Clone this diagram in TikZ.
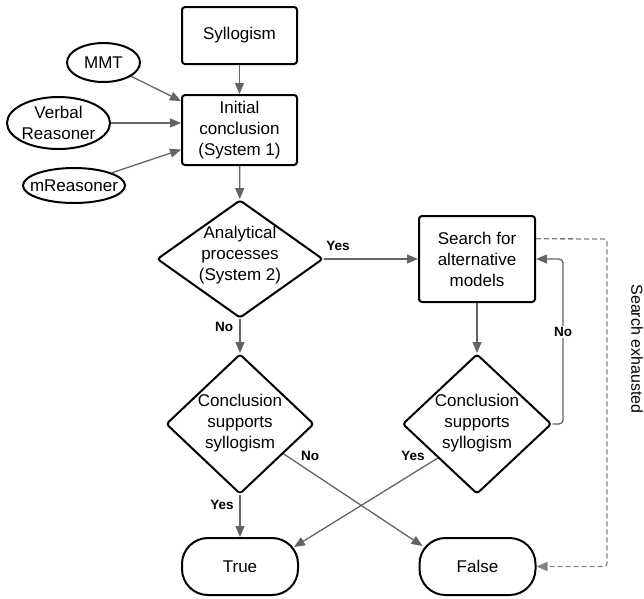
\documentclass[tikz,border=0pt]{standalone}
\usepackage{fontspec}
\setmainfont{Liberation Sans}
\usetikzlibrary{arrows.meta,shapes.geometric,calc}
\definecolor{cg}{RGB}{100,100,100}
\definecolor{dg}{RGB}{130,130,130}
\begin{document}
\begin{tikzpicture}[x=1pt,y=-1pt,
  every node/.style={font=\fontsize{17}{21}\selectfont},
  box/.style={draw, line width=2pt, rounded corners=3pt, minimum width=115pt, inner sep=0pt, align=center},
  ell/.style={draw, ellipse, line width=2pt, inner sep=0pt, align=center},
  dia/.style={draw, diamond, line width=2pt, rounded corners=3pt, inner sep=0pt},
  term/.style={draw, line width=2pt, rounded corners=26pt, minimum width=116pt, minimum height=57pt, inner sep=0pt},
  txt/.style={align=center, inner sep=0pt},
  conn/.style={draw=cg, line width=1.3pt, -{Triangle[length=11pt,width=9pt]}},
  dconn/.style={conn, draw=dg, dash pattern=on 5pt off 3pt},
  lbl/.style={font=\fontsize{13.5}{16}\selectfont\bfseries, inner sep=1pt},
]
\useasboundingbox (0,0) rectangle (644,598);

\node[box, minimum height=57pt] (syl) at (239.5,35.5) {Syllogism};
\node[box, minimum height=70pt] (ic) at (239.5,130) {Initial\\conclusion\\(System 1)};
\node[ell, minimum width=73pt, minimum height=39pt] (mmt) at (103.5,62.5) {MMT};
\node[ell, minimum width=103pt, minimum height=52pt, inner xsep=-1pt] (vr) at (58.5,123) {Verbal\\Reasoner};
\node[ell, minimum width=102pt, minimum height=35pt, inner xsep=-8pt] (mr) at (74,185.5) {mReasoner};

\node[dia, minimum width=166pt, minimum height=118pt] (ad) at (240,259) {};
\node[txt] (adt) at (240,255) {Analytical\\processes\\(System 2)};
\node[box, minimum width=116pt, minimum height=86pt] (sa) at (477,259) {Search for\\alternative\\models};
\node[dia, minimum width=148pt, minimum height=140pt] (cl) at (240,424) {};
\node[txt] (clt) at (240,423) {Conclusion\\supports\\syllogism};
\node[dia, minimum width=149pt, minimum height=140pt] (cr) at (477,424) {};
\node[txt] (crt) at (477,423) {Conclusion\\supports\\syllogism};
\node[term] (tr) at (240,566.5) {True};
\node[term] (fa) at (477.5,566.5) {False};

\draw[conn] (syl) -- (ic);
\draw[conn] (mmt) -- (ic);
\draw[conn] (vr.east) -- (vr.east -| ic.west);
\draw[conn] (mr) -- (ic);
\draw[conn] (ic) -- (ad);
\draw[conn] (ad) -- (sa);
\draw[conn] (ad) -- (cl);
\draw[conn] (sa) -- (cr);
\coordinate (lp) at (563,259);
\draw[conn, rounded corners=4pt] (cr.east) -| (lp) -- (sa.east);
\node[lbl, fill=white] (nol) at (563,332) {No};

\coordinate (ds) at ($(sa.north east)!0.27!(sa.south east)$);
\coordinate (dc) at (607,239);
\draw[dconn, rounded corners=3pt] (ds) -- (dc) |- (fa.east);
\node[rotate=-90, font=\fontsize{16}{19}\selectfont] (se) at (637,349) {Search exhausted};

\draw[conn] (cl) -- (tr);
\coordinate (cls) at ($(cl.east)!0.42!(cl.south)$);
\coordinate (fae) at ($(fa.north west)+(4,9)$);
\draw[conn] (cls) -- (fae);
\coordinate (crs) at ($(cr.west)!0.48!(cr.south)$);
\coordinate (tre) at ($(tr.north east)+(-5,10)$);
\draw[conn] (crs) -- (tre);

\node[lbl] (y1) at (338,246) {Yes};
\node[lbl] (n1) at (224,327) {No};
\node[lbl] (y2) at (222,505) {Yes};
\node[lbl] (n2) at (310,456) {No};
\node[lbl] (y3) at (413,456) {Yes};
\end{tikzpicture}
\end{document}
